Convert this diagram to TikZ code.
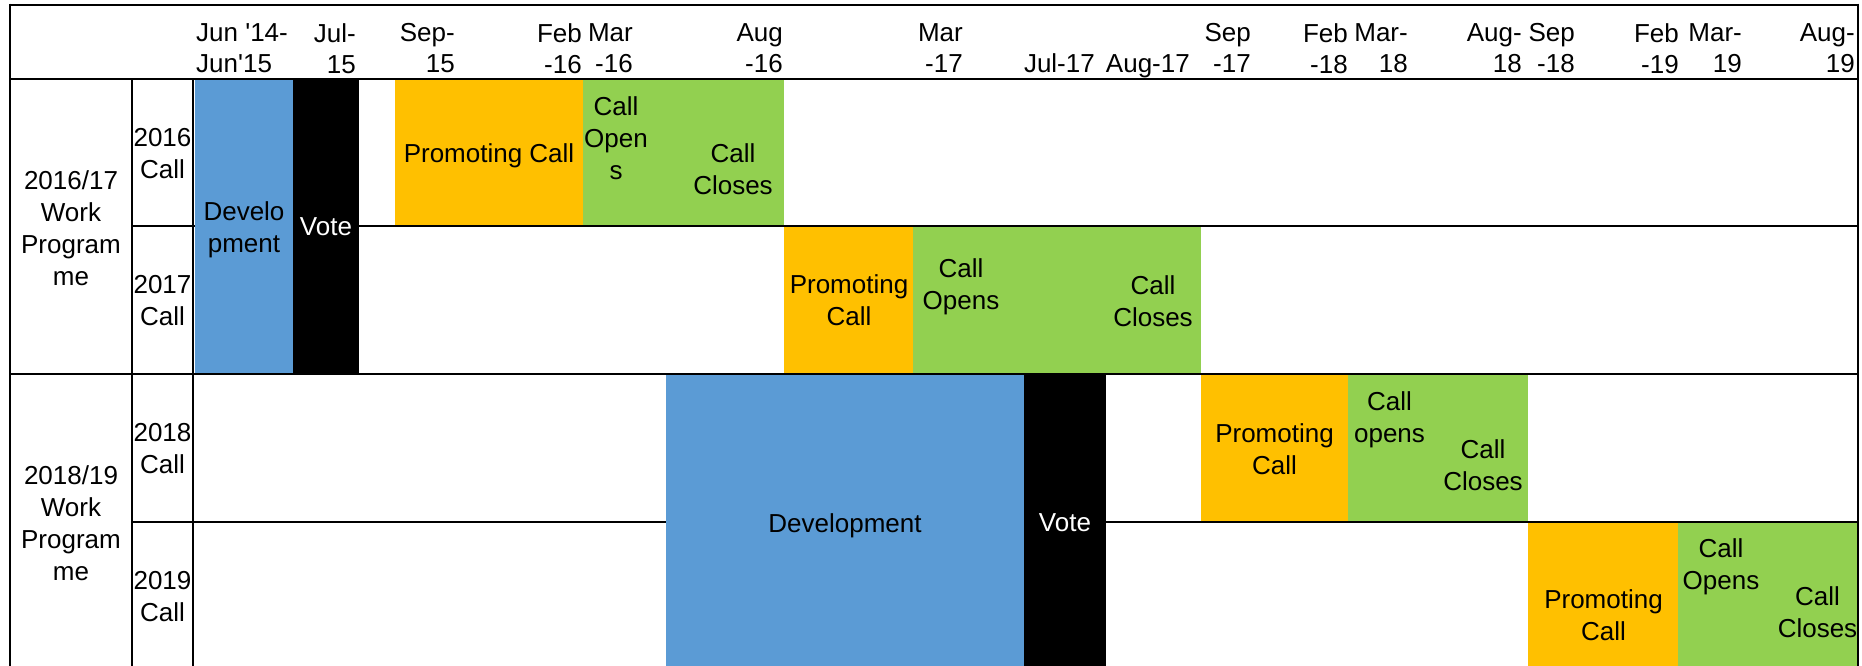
\documentclass[tikz,border=0pt]{standalone}
\usepackage{fontspec}
\newfontfamily\arial{Liberation Sans}
\definecolor{devblue}{HTML}{5B9BD5}
\definecolor{promorange}{HTML}{FFC000}
\definecolor{callgreen}{HTML}{92D050}
\begin{document}
\begin{tikzpicture}[x=1pt,y=-1pt,
  txt/.style={font=\arial\fontsize{26}{32}\selectfont, inner sep=0pt, align=center, anchor=north},
  wtxt/.style={txt, text=white},
  hdr/.style={font=\arial\fontsize{26}{31}\selectfont, inner sep=0pt, align=right, anchor=north east},
  hdrone/.style={font=\arial\fontsize{26}{31}\selectfont, inner sep=0pt, anchor=base east},
  gridline/.style={line width=2.8pt, black},
  vline/.style={line width=2.5pt, black},
  devbar/.style={fill=devblue},
  votebar/.style={fill=black},
  prombar/.style={fill=promorange},
  callbar/.style={fill=callgreen}]
\useasboundingbox (0,0) rectangle (1862,666);
\fill[white] (0,0) rectangle (1862,666);

% row bars
\fill[prombar] (395,79) rectangle (583,226);
\fill[callbar] (583,79) rectangle (784,226);
\fill[prombar] (784,226) rectangle (913,374);
\fill[callbar] (913,226) rectangle (1201,374);
\fill[prombar] (1201,374) rectangle (1348,522);
\fill[callbar] (1348,374) rectangle (1528,522);
\fill[prombar] (1528,522) rectangle (1678,666);
\fill[callbar] (1678,522) rectangle (1859,666);

% grid
\draw[gridline] (10,5) -- (1858,5);
\draw[gridline] (10,79) -- (1858,79);
\draw[gridline] (132,226) -- (1858,226);
\draw[gridline] (10,374) -- (1858,374);
\draw[gridline] (132,522) -- (1858,522);
\draw[vline] (10,3.6) -- (10,666);
\draw[vline] (1858,3.6) -- (1858,666);
\draw[vline] (132,79) -- (132,666);
\draw[vline] (193,79) -- (193,666);

% spanning bars
\fill[devbar] (194.5,80.4) rectangle (293,372.6);
\fill[votebar] (293,80.4) rectangle (359,372.6);
\fill[devbar] (666,375.4) rectangle (1024,666);
\fill[votebar] (1024,375.4) rectangle (1106,666);

% header labels
\node[font=\arial\fontsize{26}{31}\selectfont, inner sep=0pt, align=left, anchor=north west] (h1) at (196,23) {Jun '14-\\Jun'15};
\node[hdr] (h2) at (356,23) {Jul-\\15};
\node[hdr] (h3) at (455,23) {Sep-\\15};
\node[hdr] (h4) at (582,23) {Feb\\-16};
\node[hdr] (h5) at (633,23) {Mar\\-16};
\node[hdr] (h6) at (783,23) {Aug\\-16};
\node[hdr] (h7) at (963,23) {Mar\\-17};
\node[hdrone] (h8) at (1095,73) {Jul-17};
\node[hdrone] (h9) at (1190,73) {Aug-17};
\node[hdr] (h10) at (1251,23) {Sep\\-17};
\node[hdr] (h11) at (1348,23) {Feb\\-18};
\node[hdr] (h12) at (1408,23) {Mar-\\18};
\node[hdr] (h13) at (1522,23) {Aug-\\18};
\node[hdr] (h14) at (1575,23) {Sep\\-18};
\node[hdr] (h15) at (1679,23) {Feb\\-19};
\node[hdr] (h16) at (1742,23) {Mar-\\19};
\node[hdr] (h17) at (1855,23) {Aug-\\19};

% left column labels
\node[txt] (wp1) at (71,170) {2016/17\\Work\\Program\\me};
\node[txt] (wp2) at (71,465) {2018/19\\Work\\Program\\me};
\node[txt] (c16) at (162.5,128) {2016\\Call};
\node[txt] (c17) at (162.5,275) {2017\\Call};
\node[txt] (c18) at (162.5,423) {2018\\Call};
\node[txt] (c19) at (162.5,571) {2019\\Call};

% bar texts
\node[txt] (dev1) at (244,201) {Develo\\pment};
\node[wtxt] (vote1) at (326,217) {Vote};
\node[txt] (prom16) at (489,143) {Promoting Call};
\node[txt] (open16) at (616,96) {Call\\Open\\s};
\node[txt] (close16) at (733,143) {Call\\Closes};
\node[txt] (prom17) at (849,274) {Promoting\\Call};
\node[txt] (open17) at (961,258) {Call\\Opens};
\node[txt] (close17) at (1153,275) {Call\\Closes};
\node[txt] (dev2) at (845,513) {Development};
\node[wtxt] (vote2) at (1065,513) {Vote};
\node[txt] (prom18) at (1274.5,423) {Promoting\\Call};
\node[txt] (open18) at (1389.5,391) {Call\\opens};
\node[txt] (close18) at (1483,439) {Call\\Closes};
\node[txt] (prom19) at (1603.5,589) {Promoting\\Call};
\node[txt] (open19) at (1721,538) {Call\\Opens};
\node[txt] (close19) at (1817.5,586) {Call\\Closes};
\end{tikzpicture}
\end{document}
